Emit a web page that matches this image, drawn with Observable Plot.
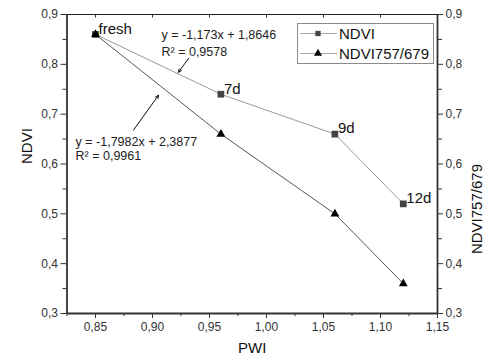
<!DOCTYPE html>
<html><head><meta charset="utf-8">
<script src="https://cdn.jsdelivr.net/npm/d3@7"></script>
<script src="https://cdn.jsdelivr.net/npm/@observablehq/plot@0.6"></script>
<style>
body{margin:0;background:#fff}
#wrap{position:relative;width:500px;height:363px;font-family:"Liberation Sans",Arial,sans-serif}
#legend{position:absolute;left:297px;top:23px;width:135px;height:39px;border:1px solid #8a8a8a;background:#fff}
</style>
</head><body><div id="wrap"></div>
<script>
const stages = ["fresh", "7d", "9d", "12d"];
const pwi = [0.85, 0.96, 1.06, 1.12];
const ndvi = [0.86, 0.74, 0.66, 0.52];
const ndvi757 = [0.86, 0.66, 0.50, 0.36];
const seriesNames = ["NDVI", "NDVI757/679"];
const xTicks = [0.85, 0.90, 0.95, 1.00, 1.05, 1.10, 1.15];
const xMinor = [0.825, 0.875, 0.925, 0.975, 1.025, 1.075, 1.125];
const yTicks = [0.3, 0.4, 0.5, 0.6, 0.7, 0.8, 0.9];
const yMinor = [0.35, 0.45, 0.55, 0.65, 0.75, 0.85];
const eqLines = ["y = -1,173x + 1,8646", "R² = 0,9578", "y = -1,7982x + 2,3877", "R² = 0,9961"];
const eqX = [0.9079, 0.9079, 0.8325, 0.8325];
const eqY = [0.858, 0.824, 0.644, 0.616];
const arrowFrom = [[0.9316, 0.812], [0.8833, 0.668]];
const arrowTo = [[0.9228, 0.784], [0.9053, 0.738]];

const s1 = pwi.map((x, i) => ({x, y: ndvi[i], label: stages[i]}));
const s2 = pwi.map((x, i) => ({x, y: ndvi757[i], label: stages[i]}));
const eqs = eqLines.map((t, i) => ({t, x: eqX[i], y: eqY[i]}));
const arrows = arrowFrom.map((f, i) => ({x1: f[0], y1: f[1], x2: arrowTo[i][0], y2: arrowTo[i][1]}));

const fx = d => d.toFixed(2).replace(".", ",");
const fy = d => d.toFixed(1).replace(".", ",");
const none = () => "";

const chart = Plot.plot({
  width: 500, height: 363,
  marginLeft: 66.5, marginRight: 63, marginTop: 14, marginBottom: 50,
  style: {fontFamily: '"Liberation Sans", Arial, sans-serif', background: "#fff", overflow: "visible"},
  x: {domain: [0.825, 1.15]},
  y: {domain: [0.3, 0.9]},
  marks: [
    Plot.axisX(xTicks, {tickFormat: fx, tickSize: 5, tickPadding: 4, fontSize: 12, color: "#333", stroke: "#333", label: null}),
    Plot.axisX(xMinor, {tickFormat: none, tickSize: 3, stroke: "#333", label: null}),
    Plot.ruleX(xTicks, {x: d => d, y1: 0.9, y2: 0.893, stroke: "#333", strokeWidth: 1}),
    Plot.axisY(yTicks, {tickFormat: fy, tickSize: 6, tickPadding: 3, fontSize: 12, color: "#333", stroke: "#333", label: null}),
    Plot.axisY(yMinor, {tickFormat: none, tickSize: 4, stroke: "#333", label: null}),
    Plot.axisY(yTicks, {anchor: "right", tickFormat: fy, tickSize: 5, tickPadding: 3, fontSize: 12, color: "#333", stroke: "#333", label: null}),
    Plot.axisY(yMinor, {anchor: "right", tickFormat: none, tickSize: 4, stroke: "#333", label: null}),
    Plot.ruleY([0.9], {stroke: "#222", strokeWidth: 1}),
    Plot.ruleX([0.825], {stroke: "#333", strokeWidth: 1.8}),
    Plot.ruleX([1.15], {stroke: "#333", strokeWidth: 1.8}),
    Plot.ruleY([0.3], {stroke: "#333", strokeWidth: 1.8}),
    Plot.line(s1, {x: "x", y: "y", stroke: "#9a9a9a", strokeWidth: 1}),
    Plot.line(s2, {x: "x", y: "y", stroke: "#444", strokeWidth: 0.9}),
    Plot.dot(s1, {x: "x", y: "y", symbol: "square", r: 3.8, fill: "#444", stroke: "none"}),
    Plot.dot(s2, {x: "x", y: "y", symbol: "triangle", r: 3.3, fill: "#000", stroke: "none"}),
    Plot.text(s1, {x: "x", y: "y", text: "label", dx: 3, dy: -5.5, textAnchor: "start", fontSize: 15, fill: "#111"}),
    Plot.text(eqs, {x: "x", y: "y", text: "t", textAnchor: "start", fontSize: 12.5, fill: "#222"}),
    Plot.arrow(arrows, {x1: "x1", y1: "y1", x2: "x2", y2: "y2", stroke: "#111", strokeWidth: 1, headLength: 5, headAngle: 50}),
    Plot.text(["PWI"], {text: d => d, frameAnchor: "bottom", dy: 39, fontSize: 15, fill: "#111"}),
    Plot.text(["NDVI"], {text: d => d, frameAnchor: "left", dx: -39.5, rotate: -90, fontSize: 15, fill: "#111"}),
    Plot.text(["NDVI757/679"], {text: d => d, frameAnchor: "right", dx: 40, rotate: -90, fontSize: 15, fill: "#111"})
  ]
});

const wrap = document.getElementById("wrap");
wrap.appendChild(chart);

const lg = document.createElement("div");
lg.id = "legend";
const rows = [
  {name: seriesNames[0], sym: "square", fill: "#444", r: 3},
  {name: seriesNames[1], sym: "triangle", fill: "#000", r: 3}
];
let svg = `<svg width="135" height="39" style="position:absolute;left:0;top:0;overflow:visible">`;
rows.forEach((row, i) => {
  const cy = 9.5 + i * 20;
  svg += `<line x1="2" x2="39" y1="${cy}" y2="${cy}" stroke="#aaa" stroke-width="1"/>`;
  const p = d3.symbol(row.sym === "square" ? d3.symbolSquare : d3.symbolTriangle, row.r * row.r * Math.PI)();
  svg += `<path d="${p}" transform="translate(20,${cy})" fill="${row.fill}"/>`;
  svg += `<text x="41" y="${cy}" dy="0.35em" font-size="15" fill="#111" font-family="Liberation Sans, Arial, sans-serif">${row.name}</text>`;
});
svg += `</svg>`;
lg.innerHTML = svg;
wrap.appendChild(lg);
</script>
</body></html>
